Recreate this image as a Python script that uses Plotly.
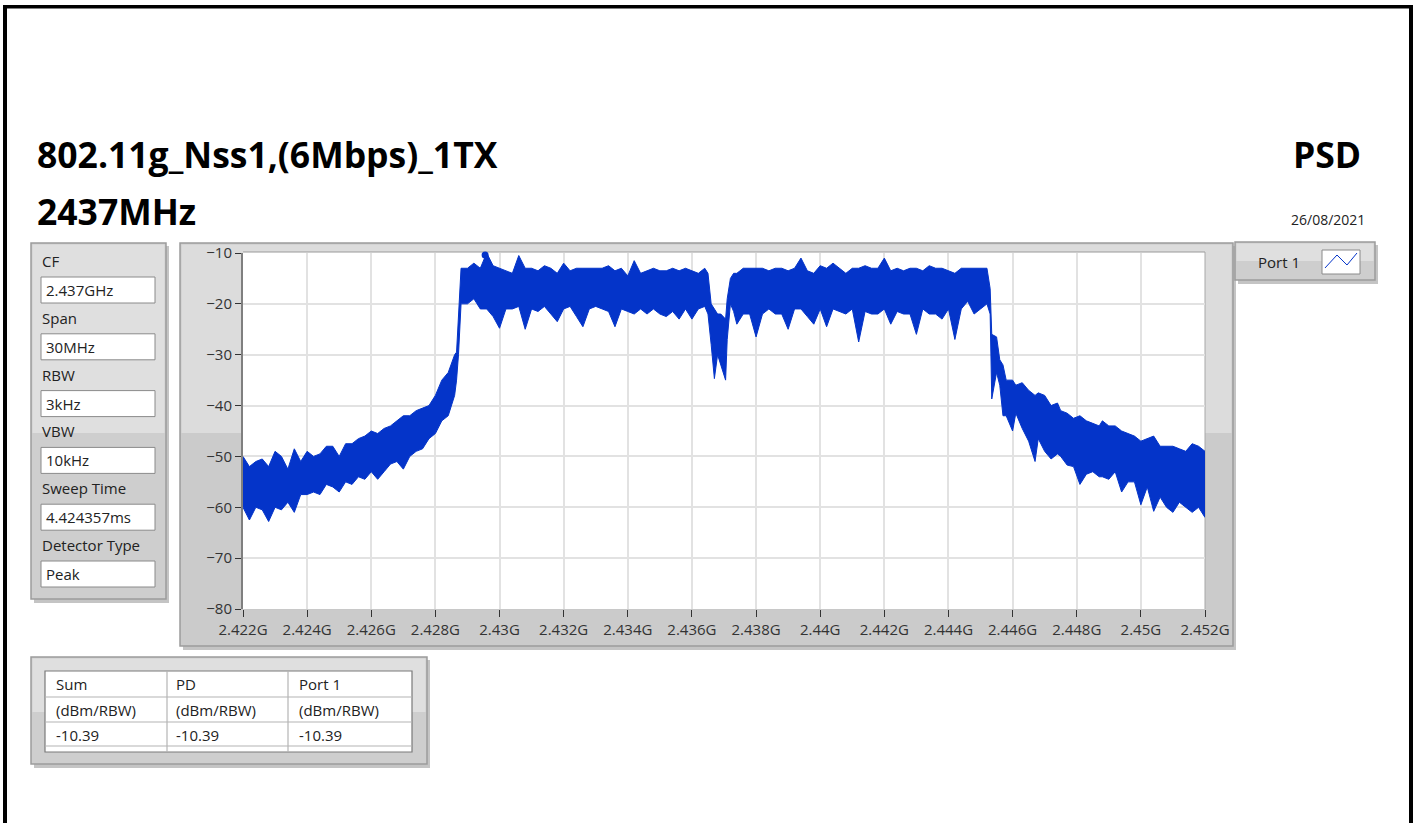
import plotly.graph_objects as go

# ---------------- data ----------------
freq_ghz = [
    2.4220, 2.4222, 2.4224, 2.4226, 2.4228, 2.4230, 2.4232, 2.4234, 2.4236, 2.4238,
    2.4240, 2.4242, 2.4244, 2.4246, 2.4248, 2.4250, 2.4252, 2.4254, 2.4256, 2.4258,
    2.4260, 2.4262, 2.4264, 2.4266, 2.4268, 2.4270, 2.4272, 2.4274, 2.4276, 2.4278,
    2.4280, 2.4282, 2.4284, 2.4286, 2.42866, 2.42872, 2.4288, 2.4290, 2.4292, 2.4294,
    2.4296, 2.4298, 2.4300, 2.4302, 2.4304, 2.4306, 2.4308, 2.4310, 2.4312, 2.4314,
    2.4316, 2.4318, 2.4320, 2.4322, 2.4324, 2.4326, 2.4328, 2.4330, 2.4332, 2.4334,
    2.4336, 2.4338, 2.4340, 2.4342, 2.4344, 2.4346, 2.4348, 2.4350, 2.4352, 2.4354,
    2.4356, 2.4358, 2.4360, 2.4362, 2.4364, 2.4365, 2.4366, 2.4367, 2.4368, 2.4369,
    2.43705, 2.4371, 2.4372, 2.4373, 2.4374, 2.4376, 2.4378, 2.4380, 2.4382, 2.4384,
    2.4386, 2.4388, 2.4390, 2.4392, 2.4394, 2.4396, 2.4398, 2.4400, 2.4402, 2.4404,
    2.4406, 2.4408, 2.4410, 2.4412, 2.4414, 2.4416, 2.4418, 2.4420, 2.4422, 2.4424,
    2.4426, 2.4428, 2.4430, 2.4432, 2.4434, 2.4436, 2.4438, 2.4440, 2.4442, 2.4444,
    2.4446, 2.4448, 2.4450, 2.4452, 2.4453, 2.44535, 2.4455, 2.4456, 2.4457, 2.4458,
    2.4460, 2.4461, 2.4463, 2.4465, 2.4467, 2.4468, 2.4470, 2.4472, 2.4474, 2.4475,
    2.4477, 2.4479, 2.4481, 2.4483, 2.4485, 2.4487, 2.4488, 2.4490, 2.4492, 2.4494,
    2.4496, 2.4498, 2.4500, 2.4502, 2.4504, 2.4506, 2.4508, 2.4510, 2.4512, 2.4514,
    2.4516, 2.4518, 2.4520,
]
peak_dbm = [
    -50.0, -52.0, -51.0, -50.5, -52.0, -49.0, -50.0, -52.5, -48.5, -51.0,
    -49.0, -50.0, -49.5, -48.0, -48.0, -50.0, -47.5, -47.5, -46.5, -46.0,
    -45.0, -45.5, -44.5, -44.0, -43.0, -42.0, -42.0, -41.0, -40.5, -40.0,
    -38.0, -35.0, -33.5, -30.0, -29.5, -21.0, -13.0, -13.0, -12.0, -13.0,
    -10.0, -12.5, -13.0, -13.5, -14.0, -10.5, -13.0, -13.0, -13.5, -12.5,
    -13.0, -14.0, -12.0, -13.5, -13.0, -13.0, -13.0, -13.0, -13.0, -12.5,
    -13.5, -13.0, -14.5, -11.5, -14.0, -13.5, -13.0, -13.5, -13.5, -13.0,
    -13.5, -13.0, -13.5, -14.0, -13.0, -14.0, -20.0, -21.0, -22.0, -22.0,
    -23.0, -19.0, -15.0, -14.0, -14.0, -13.0, -13.0, -13.0, -13.0, -13.5,
    -13.0, -13.0, -13.5, -13.0, -11.0, -13.5, -14.0, -12.5, -13.0, -12.0,
    -13.0, -14.0, -13.0, -13.0, -12.5, -13.0, -13.0, -11.0, -13.5, -13.0,
    -13.5, -13.0, -13.0, -13.5, -12.5, -13.0, -13.0, -13.5, -14.0, -13.0,
    -13.0, -13.0, -13.0, -13.0, -17.0, -26.0, -26.5, -31.0, -32.0, -35.0,
    -35.0, -36.0, -35.5, -37.0, -38.0, -37.5, -38.0, -40.0, -39.5, -41.0,
    -41.5, -42.5, -42.0, -43.0, -43.5, -44.0, -43.0, -44.0, -44.0, -45.0,
    -45.5, -46.0, -47.0, -46.5, -46.0, -48.0, -48.0, -48.0, -48.5, -49.0,
    -47.5, -48.0, -49.0,
]
floor_dbm = [
    -60.0, -62.5, -60.0, -60.5, -62.8, -60.0, -60.5, -59.0, -61.0, -57.5,
    -57.5, -57.0, -57.5, -55.5, -56.0, -57.0, -55.0, -55.5, -54.0, -54.5,
    -53.0, -54.5, -53.0, -51.5, -51.0, -52.5, -50.0, -49.0, -48.5, -46.5,
    -45.5, -43.0, -42.0, -38.0, -35.0, -30.0, -20.0, -20.0, -19.0, -21.0,
    -21.0, -22.5, -24.8, -21.0, -21.0, -20.5, -25.0, -21.0, -21.5, -20.5,
    -22.0, -23.5, -21.0, -20.5, -22.5, -24.5, -21.0, -20.5, -21.0, -21.5,
    -24.5, -21.0, -21.5, -22.0, -21.0, -22.0, -21.0, -22.0, -22.5, -21.5,
    -23.0, -21.0, -23.0, -21.0, -20.5, -22.0, -28.0, -34.7, -30.0, -32.0,
    -35.0, -27.0, -20.0, -21.5, -24.0, -22.0, -22.0, -26.5, -22.0, -21.0,
    -22.0, -22.0, -25.0, -21.0, -21.0, -22.5, -24.0, -21.0, -24.5, -21.0,
    -21.5, -22.0, -21.0, -27.5, -21.5, -22.0, -22.0, -21.0, -24.0, -21.5,
    -22.0, -22.0, -26.0, -21.0, -22.0, -22.0, -23.0, -21.0, -27.0, -21.0,
    -19.5, -22.0, -21.0, -20.0, -22.0, -38.7, -33.5, -36.0, -42.0, -42.0,
    -45.0, -41.5, -44.5, -47.0, -51.0, -46.5, -49.0, -50.5, -49.5, -50.0,
    -51.7, -52.0, -55.5, -53.5, -53.0, -54.0, -54.0, -54.5, -53.0, -57.0,
    -55.0, -55.0, -59.5, -56.0, -60.8, -58.0, -60.0, -61.0, -59.0, -60.0,
    -61.0, -60.0, -62.0,
]
peak_marker_freq = [2.42955]
peak_marker_dbm = [-10.39]

x_tick_vals = [2.422, 2.424, 2.426, 2.428, 2.430, 2.432, 2.434, 2.436,
               2.438, 2.440, 2.442, 2.444, 2.446, 2.448, 2.450, 2.452]
x_tick_text = ["2.422G", "2.424G", "2.426G", "2.428G", "2.43G", "2.432G", "2.434G",
               "2.436G", "2.438G", "2.44G", "2.442G", "2.444G", "2.446G", "2.448G",
               "2.45G", "2.452G"]
y_tick_vals = [-10, -20, -30, -40, -50, -60, -70, -80]

title_line1 = "802.11g_Nss1,(6Mbps)_1TX"
title_line2 = "2437MHz"
title_right = "PSD"
date_text = "26/08/2021"
setting_labels = ["CF", "Span", "RBW", "VBW", "Sweep Time", "Detector Type"]
setting_values = ["2.437GHz", "30MHz", "3kHz", "10kHz", "4.424357ms", "Peak"]
table_header = ["Sum", "PD", "Port 1"]
table_units = ["(dBm/RBW)", "(dBm/RBW)", "(dBm/RBW)"]
table_values = ["-10.39", "-10.39", "-10.39"]
legend_name = "Port 1"

# ---------------- geometry helpers (page pixel -> paper) ----------------
W, H = 1415, 823
PL, PR, PT, PB = 243, 1205, 253, 609       # plot area in page pixels
ML, MR, MT, MB = PL, W - PR, PT, H - PB
PW, PH = W - ML - MR, H - MT - MB


def X(px):
    return (px - ML) / PW


def Y(py):
    return (H - MB - py) / PH


FONT = "Open Sans, Noto Sans, DejaVu Sans, sans-serif"
BLUE = "#0434c9"
shapes = []
annotations = []


def rect(x0, y0, x1, y1, fill, line=None, lw=1, layer="below"):
    shapes.append(dict(type="rect", xref="paper", yref="paper",
                       x0=X(x0), x1=X(x1), y0=Y(y1), y1=Y(y0),
                       fillcolor=fill, layer=layer,
                       line=dict(color=line if line else fill, width=lw if line else 0)))


def line(x0, y0, x1, y1, color, lw=1, layer="below"):
    shapes.append(dict(type="line", xref="paper", yref="paper",
                       x0=X(x0), x1=X(x1), y0=Y(y0), y1=Y(y1), layer=layer,
                       line=dict(color=color, width=lw)))


def text(px, py, s, size=15, bold=False, anchor="left", color="#222222"):
    annotations.append(dict(xref="paper", yref="paper", x=X(px), y=Y(py),
                            text=("<b>%s</b>" % s) if bold else s, showarrow=False,
                            xanchor=anchor, yanchor="middle",
                            font=dict(family=FONT, size=size, color=color)))


def panel(x0, y0, x1, y1, split, top="#dfdfdf", bottom="#cecece"):
    rect(x0 + 3, y0 + 3, x1 + 3, y1 + 4, "#c4c4c4")          # shadow
    rect(x0, y0, x1, y1, bottom, "#9c9c9c", 1.5)
    rect(x0 + 1.5, y0 + 1.5, x1 - 1.5, split, top)


# graph panel
panel(180, 243, 1233, 646, 433, top="#dcdcdc", bottom="#cbcbcb")
rect(243, 252, 1205, 609, "#ffffff")
line(1205, 252, 1205, 609, "#a8a8a8", 1)
line(243, 252, 1205, 252, "#9a9a9a", 1)

# left settings panel
panel(31, 243, 166, 599, 433)
for i, (lab, val) in enumerate(zip(setting_labels, setting_values)):
    y_lab = 261 + 56.8 * i
    y_box = 277 + 56.8 * i
    text(40, y_lab, lab, 15)
    rect(41, y_box, 155, y_box + 26, "#ffffff", "#8a8a8a", 1)
    text(44, y_box + 13, val, 15)

# legend panel
panel(1235, 242, 1375, 280, 261)
text(1256, 262, legend_name, 15)
rect(1322, 250, 1360, 274, "#ffffff", "#8a8a8a", 1)
shapes.append(dict(type="path", xref="paper", yref="paper", layer="above",
                   path="M %f,%f L %f,%f L %f,%f L %f,%f" % (
                       X(1325), Y(268), X(1337), Y(255), X(1347), Y(265), X(1357), Y(253)),
                   line=dict(color=BLUE, width=1)))

# results table panel
panel(31, 657, 427, 764, 712)
rect(45, 671, 412, 752, "#ffffff", "#7a7a7a", 1.2)
for yy in (697, 722, 746):
    line(45, yy, 412, yy, "#b4b4b4", 1.2)
for xx in (167, 288):
    line(xx, 671, xx, 752, "#b4b4b4", 1.2)
col_x = [54, 174, 297]
for j in range(3):
    text(col_x[j], 684, table_header[j], 15)
    text(col_x[j], 710, table_units[j], 15)
    text(col_x[j], 735, table_values[j], 15)

# titles
text(35, 154, title_line1, 35.5, bold=True, color="#000000")
text(35, 211, title_line2, 35.5, bold=True, color="#000000")
text(1363, 154, title_right, 35.5, bold=True, anchor="right", color="#000000")
text(1367, 219, date_text, 14, anchor="right", color="#222222")

# outer black frame
rect(3, 5, 7, 823, "#000000", layer="above")
rect(3, 5, 1413, 8.5, "#000000", layer="above")
rect(1409, 5, 1413, 823, "#000000", layer="above")

# ---------------- spectrum trace ----------------
fig = go.Figure()
fig.add_trace(go.Scatter(x=freq_ghz, y=floor_dbm, mode="lines",
                         line=dict(color=BLUE, width=1), showlegend=False))
fig.add_trace(go.Scatter(x=freq_ghz, y=peak_dbm, mode="lines", name=legend_name,
                         line=dict(color=BLUE, width=1), fill="tonexty",
                         fillcolor=BLUE, showlegend=False))
fig.add_trace(go.Scatter(x=peak_marker_freq, y=peak_marker_dbm, mode="markers",
                         marker=dict(color=BLUE, size=7), cliponaxis=False,
                         showlegend=False))

fig.update_layout(
    width=W, height=H,
    margin=dict(l=ML, r=MR, t=MT, b=MB),
    paper_bgcolor="#ffffff", plot_bgcolor="#ffffff",
    shapes=shapes, annotations=annotations,
    font=dict(family=FONT, size=15, color="#333333"),
    showlegend=False,
)
fig.update_xaxes(range=[2.422, 2.452], tickvals=x_tick_vals, ticktext=x_tick_text,
                 showgrid=True, gridcolor="#e2e2e2", gridwidth=2,
                 showline=True, linecolor="#c8c8c8", linewidth=1,
                 ticks="outside", ticklen=7, tickcolor="#333333", tickwidth=1,
                 tickfont=dict(family=FONT, size=15, color="#333333"), zeroline=False)
fig.update_yaxes(range=[-80, -10], tickvals=y_tick_vals,
                 showgrid=True, gridcolor="#e2e2e2", gridwidth=2,
                 showline=True, linecolor="#7f7f7f", linewidth=2,
                 ticks="outside", ticklen=6, tickcolor="#333333", tickwidth=1,
                 tickfont=dict(family=FONT, size=15, color="#333333"), zeroline=False)

fig.write_html("out.html",
               config={"displayModeBar": False},
               post_script="document.body.style.margin='0';"
                           "document.body.style.overflow='hidden';")
